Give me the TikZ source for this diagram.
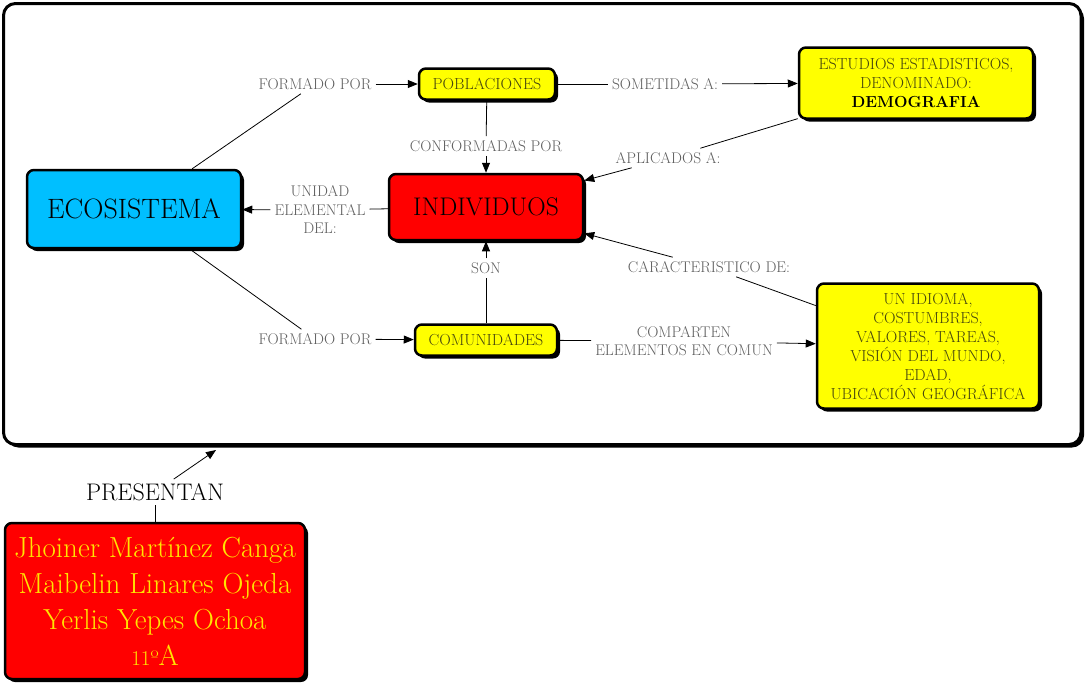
\documentclass[tikz,border=0pt]{standalone}
\usetikzlibrary{arrows.meta,shadows}
\definecolor{cielo}{RGB}{0,191,255}
\definecolor{rojo}{RGB}{255,0,0}
\definecolor{amarillo}{RGB}{255,255,0}
\definecolor{oliva}{RGB}{70,70,15}
\definecolor{gris}{RGB}{95,95,95}
\definecolor{letrero}{RGB}{255,230,0}
\begin{document}
\begin{tikzpicture}[x=1pt, y=-1pt,
  caja/.style={draw=black, line width=2.5pt, rounded corners=7pt, align=center, inner sep=2pt,
    drop shadow={shadow xshift=3pt, shadow yshift=-3pt, fill=black, opacity=1}},
  concepto/.style={caja, fill=amarillo, text=oliva, font=\fontsize{16}{19}\selectfont},
  enlace/.style={text=gris, align=center, inner sep=4pt, font=\fontsize{15.5}{18.5}\selectfont},
  linea/.style={black, line width=0.8pt},
  flecha/.style={linea, -{Triangle[length=10pt,width=8pt]}}]
\useasboundingbox (0,0) rectangle (1089,686);

% marco del mapa
\draw [line width=3pt, rounded corners=12pt, fill=white,
  drop shadow={shadow xshift=3pt, shadow yshift=-3pt, fill=black, opacity=1}] (3.5,3.5) rectangle (1081,444.5);
\coordinate (marco) at (216,450);

% conceptos
\node [caja, fill=cielo, minimum width=214pt, minimum height=78pt, font=\fontsize{28}{30}\selectfont] (eco) at (134,209) {ECOSISTEMA};
\node [caja, fill=rojo, minimum width=194pt, minimum height=66pt, font=\fontsize{25.5}{30}\selectfont] (ind) at (486,207) {INDIVIDUOS};
\node [concepto, minimum width=136pt, minimum height=31pt] (pob) at (487,84) {POBLACIONES};
\node [concepto, minimum width=142pt, minimum height=31pt] (com) at (486,340) {COMUNIDADES};
\node [concepto, minimum width=234pt, minimum height=71pt] (est) at (916,83) {ESTUDIOS ESTADISTICOS,\\DENOMINADO:\\\textcolor{black}{\textbf{DEMOGRAFIA}}};
\node [concepto, minimum width=222pt, minimum height=125pt] (rasgos) at (928,346) {UN IDIOMA,\\COSTUMBRES,\\VALORES, TAREAS,\\VISIÓN DEL MUNDO,\\EDAD,\\UBICACIÓN GEOGRÁFICA};
\node [caja, fill=rojo, text=letrero, minimum width=300pt, minimum height=156pt, font=\fontsize{29}{36}\selectfont] (autores) at (155,601) {Jhoiner Martínez Canga\\Maibelin Linares Ojeda\\Yerlis Yepes Ochoa\\{\fontsize{21}{36}\selectfont 11º}A};

% enlaces
\node [enlace] (formado1) at (315,84) {FORMADO POR};
\node [enlace] (formado2) at (315,339) {FORMADO POR};
\node [enlace] (conformadas) at (486,146) {CONFORMADAS POR};
\node [enlace] (sometidas) at (665,84) {SOMETIDAS A:};
\node [enlace] (aplicados) at (668,158) {APLICADOS A:};
\node [enlace] (unidad) at (320,210) {UNIDAD\\ELEMENTAL\\DEL:};
\node [enlace] (son) at (486,268) {SON};
\node [enlace] (caracteristico) at (709,267) {CARACTERISTICO DE:};
\node [enlace] (comparten) at (684,341) {COMPARTEN\\ELEMENTOS EN COMUN};
\node [enlace, text=black, font=\fontsize{24}{24}\selectfont] (presentan) at (155,492) {PRESENTAN};

\draw [linea] (eco) -- (formado1);
\draw [flecha] (formado1) -- (pob);
\draw [linea] (eco) -- (formado2);
\draw [flecha] (formado2) -- (com);
\draw [linea] (pob) -- (conformadas);
\draw [flecha] (conformadas) -- (ind);
\draw [linea] (pob) -- (sometidas);
\draw [flecha] (sometidas) -- (est);
\draw [linea] (est) -- (aplicados);
\draw [flecha] (aplicados) -- (ind);
\draw [linea] (ind) -- (unidad);
\draw [flecha] (unidad) -- (eco);
\draw [linea] (com) -- (son);
\draw [flecha] (son) -- (ind);
\draw [linea] (rasgos) -- (caracteristico);
\draw [flecha] (caracteristico) -- (ind);
\draw [linea] (com) -- (comparten);
\draw [flecha] (comparten) -- (rasgos);
\draw [linea] (autores) -- (presentan);
\draw [flecha] (presentan) -- (marco);
\end{tikzpicture}
\end{document}
